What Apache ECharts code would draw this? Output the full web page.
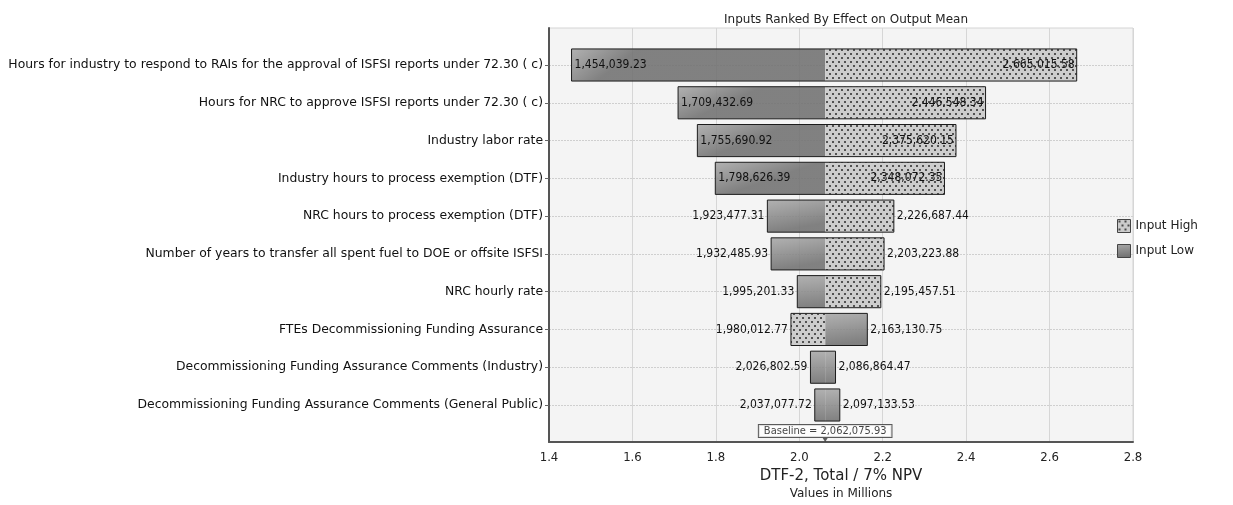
<!DOCTYPE html>
<html>
<head>
<meta charset="utf-8">
<script src="https://cdn.jsdelivr.net/npm/echarts@6/dist/echarts.min.js"></script>
<style>
  html, body { margin: 0; padding: 0; background: #fff; }
  #chart { width: 1233px; height: 505px; }
</style>
</head>
<body>
<div id="chart"></div>
<script>
// inputs, top to bottom
const inputs = [
  'Hours for industry to respond to RAIs for the approval of ISFSI reports under 72.30 ( c)',
  'Hours for NRC to approve ISFSI reports under 72.30 ( c)',
  'Industry labor rate',
  'Industry hours to process exemption (DTF)',
  'NRC hours to process exemption (DTF)',
  'Number of years to transfer all spent fuel to DOE or offsite ISFSI',
  'NRC hourly rate',
  'FTEs Decommissioning Funding Assurance',
  'Decommissioning Funding Assurance Comments (Industry)',
  'Decommissioning Funding Assurance Comments (General Public)'
]
// output mean at the left / right end of each bar
const lowerValues = [1454039.23, 1709432.69, 1755690.92, 1798626.39, 1923477.31,
  1932485.93, 1995201.33, 1980012.77, 2026802.59, 2037077.72]
const upperValues = [2665015.58, 2446548.34, 2375620.15, 2348072.35, 2226687.44,
  2203223.88, 2195457.51, 2163130.75, 2086864.47, 2097133.53]
// which input level gave each side of the bar
const leftKind = ['Low', 'Low', 'Low', 'Low', 'Low', 'Low', 'Low', 'High', 'Low', 'Low']
const rightKind = ['High', 'High', 'High', 'High', 'High', 'High', 'High', 'Low', 'Low', 'Low']
const baseline = 2062075.93
const xMin = 1.4
const xMax = 2.8
const xStep = 0.2

const M = 1e6
const BAR_RATIO = 0.85
const FONT = "'DejaVu Sans', sans-serif"
const NUM_FONT = "'DejaVu Sans Condensed', 'DejaVu Sans', sans-serif"

const fmt = v => v.toLocaleString('en-US', { minimumFractionDigits: 2, maximumFractionDigits: 2 })

// dotted fill for "Input High"
const dots = document.createElement('canvas')
dots.width = 6
dots.height = 8
const dctx = dots.getContext('2d')
dctx.fillStyle = '#cbcbcb'
dctx.fillRect(0, 0, 6, 8)
dctx.fillStyle = '#4a4a4a'
dctx.fillRect(1, 1, 2, 2)
dctx.fillRect(4, 5, 2, 2)
const highFill = { image: dots, repeat: 'repeat' }

const lowFill = new echarts.graphic.LinearGradient(0, 0, 0.1, 1, [
  { offset: 0, color: '#a8a8a8' },
  { offset: 1, color: '#717171' }
])

// segments [from, to, row] for each kind
const segments = kind => {
  const out = []
  inputs.forEach((_, i) => {
    if (leftKind[i] === kind) out.push([lowerValues[i] / M, baseline / M, i])
    if (rightKind[i] === kind) out.push([baseline / M, upperValues[i] / M, i])
  })
  return out
}

const segmentItem = (fill, opacity) => (params, api) => {
  const a = api.coord([api.value(0), api.value(2)])
  const b = api.coord([api.value(1), api.value(2)])
  const h = api.size([0, 1])[1] * BAR_RATIO
  return {
    type: 'rect',
    shape: { x: Math.min(a[0], b[0]), y: a[1] - h / 2, width: Math.abs(b[0] - a[0]), height: h },
    style: { fill: fill, opacity: opacity }
  }
}

const frameItem = (params, api) => {
  const i = params.dataIndex
  const row = api.value(2)
  const a = api.coord([api.value(0), row])
  const b = api.coord([api.value(1), row])
  const c = api.coord([baseline / M, row])
  const h = api.size([0, 1])[1] * BAR_RATIO
  const inside = Math.min(c[0] - a[0], b[0] - c[0]) > 80
  const textStyle = { font: '12px ' + NUM_FONT, fill: '#111', verticalAlign: 'middle' }
  return {
    type: 'group',
    children: [
      {
        type: 'rect',
        shape: { x: a[0], y: a[1] - h / 2, width: b[0] - a[0], height: h },
        style: { fill: 'none', stroke: '#1c1c1c', lineWidth: 1 }
      },
      {
        type: 'text',
        x: inside ? a[0] + 3 : a[0] - 3,
        y: a[1],
        style: Object.assign({ text: fmt(lowerValues[i]), align: inside ? 'left' : 'right' }, textStyle)
      },
      {
        type: 'text',
        x: inside ? b[0] - 2 : b[0] + 3,
        y: b[1],
        style: Object.assign({ text: fmt(upperValues[i]), align: inside ? 'right' : 'left' }, textStyle)
      }
    ]
  }
}

const chart = echarts.init(document.getElementById('chart'))

chart.setOption({
  animation: false,
  textStyle: { fontFamily: FONT },
  title: {
    text: 'Inputs Ranked By Effect on Output Mean',
    left: 841,
    textAlign: 'center',
    top: 9,
    textStyle: { fontSize: 12, fontWeight: 'normal', color: '#222', fontFamily: FONT }
  },
  legend: {
    orient: 'vertical',
    left: 1112,
    top: 214,
    itemWidth: 13,
    itemHeight: 13,
    itemGap: 11,
    icon: 'rect',
    textStyle: { fontSize: 12, color: '#222', fontFamily: FONT },
    data: [
      { name: 'Input High', itemStyle: { color: highFill, borderColor: '#444', borderWidth: 1 } },
      { name: 'Input Low', itemStyle: { color: lowFill, borderColor: '#444', borderWidth: 1 } }
    ]
  },
  grid: [
    // frame
    { left: 549, right: 100, top: 28, bottom: 62, show: true, backgroundColor: '#f4f4f4', borderColor: '#d4d4d4', borderWidth: 1 },
    // bars
    { left: 549, right: 100, top: 65, bottom: 100 }
  ],
  xAxis: [
    {
      gridIndex: 0,
      type: 'value',
      min: xMin,
      max: xMax,
      interval: xStep,
      axisLine: { show: true, lineStyle: { color: '#555', width: 2 } },
      axisTick: { show: false },
      axisLabel: { fontSize: 13, color: '#222', margin: 9, fontFamily: NUM_FONT, formatter: v => v.toFixed(1) },
      splitLine: { show: true, lineStyle: { color: '#d6d6d6', width: 1 } },
      name: '{a|DTF-2, Total / 7% NPV}\n{b|Values in Millions}',
      nameLocation: 'middle',
      nameGap: 25,
      nameTextStyle: {
        rich: {
          a: { fontSize: 15, color: '#222', fontFamily: FONT, lineHeight: 19 },
          b: { fontSize: 12, color: '#222', fontFamily: FONT, lineHeight: 16 }
        }
      }
    },
    { gridIndex: 1, type: 'value', min: xMin, max: xMax, show: false }
  ],
  yAxis: [
    {
      gridIndex: 0,
      type: 'value',
      min: 0,
      max: 1,
      axisLine: { show: true, lineStyle: { color: '#555', width: 2 } },
      axisTick: { show: false },
      axisLabel: { show: false },
      splitLine: { show: false }
    },
    {
      gridIndex: 1,
      type: 'category',
      inverse: true,
      boundaryGap: false,
      data: inputs,
      axisLine: { show: false },
      axisTick: { show: true, length: 4, lineStyle: { color: '#666' } },
      axisLabel: { fontSize: 12.4, color: '#111', margin: 6, fontFamily: FONT },
      splitLine: { show: true, lineStyle: { color: '#cfcfcf', type: [2, 1] } }
    }
  ],
  series: [
    {
      name: 'Input Low',
      type: 'custom',
      xAxisIndex: 1,
      yAxisIndex: 1,
      itemStyle: { color: lowFill },
      encode: { x: [0, 1], y: 2 },
      renderItem: segmentItem(lowFill, 0.88),
      data: segments('Low')
    },
    {
      name: 'Input High',
      type: 'custom',
      xAxisIndex: 1,
      yAxisIndex: 1,
      itemStyle: { color: highFill },
      encode: { x: [0, 1], y: 2 },
      renderItem: segmentItem(highFill, 0.95),
      data: segments('High')
    },
    {
      name: 'frame',
      type: 'custom',
      xAxisIndex: 1,
      yAxisIndex: 1,
      encode: { x: [0, 1], y: 2 },
      renderItem: frameItem,
      data: inputs.map((_, i) => [lowerValues[i] / M, upperValues[i] / M, i])
    },
    {
      name: 'baseline',
      type: 'scatter',
      xAxisIndex: 0,
      yAxisIndex: 0,
      symbol: 'triangle',
      symbolRotate: 180,
      symbolSize: [5, 4],
      itemStyle: { color: '#333' },
      silent: true,
      data: [[baseline / M, 0.005]],
      label: {
        show: true,
        position: 'top',
        distance: 1,
        formatter: () => 'Baseline = ' + fmt(baseline),
        fontSize: 11,
        color: '#111',
        fontFamily: NUM_FONT,
        backgroundColor: '#fff',
        borderColor: '#333',
        borderWidth: 1,
        padding: [1, 5, 0, 5]
      }
    }
  ]
})

window.addEventListener('resize', () => chart.resize())
</script>
</body>
</html>
